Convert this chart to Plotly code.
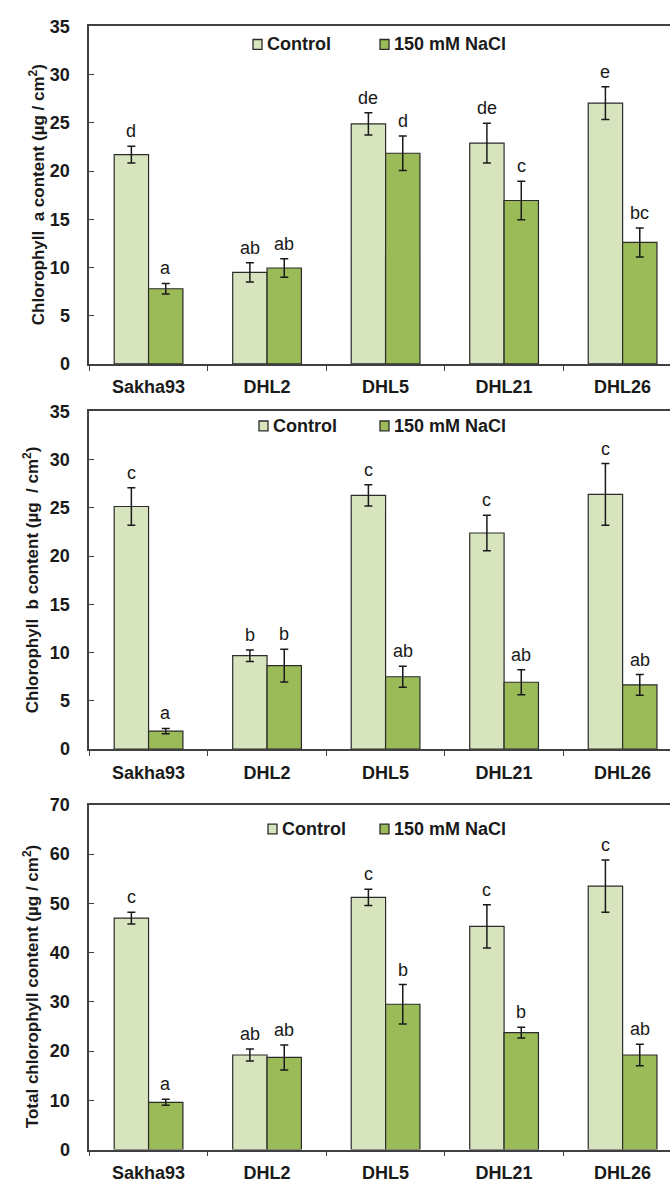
import plotly.graph_objects as go

# Chlorophyll content of wheat genotypes under control and 150 mM NaCl
cultivars = ["Sakha93", "DHL2", "DHL5", "DHL21", "DHL26"]

chla_control = [21.7, 9.5, 24.9, 22.9, 27.05]
chla_control_err = [0.87, 1.0, 1.15, 2.05, 1.7]
chla_nacl = [7.8, 9.95, 21.85, 16.95, 12.6]
chla_nacl_err = [0.55, 0.95, 1.8, 2.0, 1.5]
chla_control_letters = ["d", "ab", "de", "de", "e"]
chla_nacl_letters = ["a", "ab", "d", "c", "bc"]

chlb_control = [25.15, 9.68, 26.3, 22.4, 26.4]
chlb_control_err = [1.95, 0.6, 1.1, 1.83, 3.2]
chlb_nacl = [1.87, 8.66, 7.5, 6.93, 6.66]
chlb_nacl_err = [0.27, 1.7, 1.1, 1.3, 1.07]
chlb_control_letters = ["c", "b", "c", "c", "c"]
chlb_nacl_letters = ["a", "b", "ab", "ab", "ab"]

total_control = [47.0, 19.2, 51.2, 45.3, 53.5]
total_control_err = [1.2, 1.2, 1.65, 4.4, 5.3]
total_nacl = [9.6, 18.7, 29.5, 23.75, 19.2]
total_nacl_err = [0.6, 2.55, 4.0, 1.1, 2.2]
total_control_letters = ["c", "ab", "c", "c", "c"]
total_nacl_letters = ["a", "ab", "b", "b", "ab"]

panel_titles = [
    "Chlorophyll  a content (µg / cm<sup>2</sup>)",
    "Chlorophyll  b content (µg  / cm<sup>2</sup>)",
    "Total chlorophyll content (µg / cm<sup>2</sup>)",
]
y_ranges = [35, 35, 70]
y_dticks = [5, 5, 10]

W, H = 670, 1194
FONT = "Liberation Sans, Arial, sans-serif"
C_CONTROL = "#d7e4bd"
C_NACL = "#9bbb59"
OUTLINE = "#2b2b2b"
AXIS = "#404040"

# panel geometry in pixels: (top, bottom) of each plot area
panel_px = [(16.7, 360.0), (408.3, 751.7), (808.3, 1159.0)]
left_px = 89.3
# legend layout per panel: control box x, nacl box x, centre y
legend_px = [(253, 380, 35), (259, 380, 423), (268, 380, 833)]
title_x_px = [37, 31, 31]
title_y_shift = [0, 0, 10]

panels = [
    (chla_control, chla_control_err, chla_nacl, chla_nacl_err,
     chla_control_letters, chla_nacl_letters),
    (chlb_control, chlb_control_err, chlb_nacl, chlb_nacl_err,
     chlb_control_letters, chlb_nacl_letters),
    (total_control, total_control_err, total_nacl, total_nacl_err,
     total_control_letters, total_nacl_letters),
]

def px_x(x):
    return x / W

def px_y(y):
    return 1 - y / H

fig = go.Figure()
annotations = []
shapes = []
layout = {}

for i, (ctl, ctl_e, nac, nac_e, ctl_l, nac_l) in enumerate(panels):
    n = i + 1
    xa = "x" if n == 1 else f"x{n}"
    ya = "y" if n == 1 else f"y{n}"
    for vals, errs, color, name in [(ctl, ctl_e, C_CONTROL, "Control"),
                                    (nac, nac_e, C_NACL, "150 mM NaCl")]:
        fig.add_trace(go.Bar(
            x=cultivars, y=vals, name=name, xaxis=xa, yaxis=ya,
            marker=dict(color=color, line=dict(color=OUTLINE, width=1.2)),
            error_y=dict(type="data", array=errs, color="#1a1a1a",
                         thickness=1.5, width=4),
            showlegend=False,
        ))
    # significance letters above each error bar
    for j in range(len(cultivars)):
        for vals, errs, lets, off in [(ctl, ctl_e, ctl_l, -0.145),
                                      (nac, nac_e, nac_l, 0.145)]:
            annotations.append(dict(
                x=j + off, y=vals[j] + errs[j], xref=xa, yref=ya,
                text=lets[j], showarrow=False, yanchor="bottom",
                font=dict(family=FONT, size=18, color="#1a1a1a"),
                yshift=3,
            ))
    top, bot = panel_px[i]
    ydom = [px_y(bot), px_y(top)]
    layout[f"xaxis{'' if n == 1 else n}"] = dict(
        domain=[px_x(left_px), 1.0], anchor=ya, type="category",
        categoryorder="array", categoryarray=cultivars,
        range=[-0.5, 4.40], showline=True, linecolor=AXIS, linewidth=1.6,
        mirror=True, ticks="outside", tickson="boundaries", ticklen=5,
        tickcolor=AXIS, tickwidth=1.4, showgrid=False, zeroline=False,
        tickfont=dict(family=FONT, size=18, color="#1a1a1a", weight="bold"),
        ticklabelstandoff=6,
    )
    layout[f"yaxis{'' if n == 1 else n}"] = dict(
        domain=ydom, anchor=xa, range=[0, y_ranges[i]], dtick=y_dticks[i],
        showline=True, linecolor=AXIS, linewidth=1.6, ticks="inside",
        ticklen=5, tickcolor=AXIS, tickwidth=1.4, showgrid=False,
        zeroline=False, ticklabelstandoff=14,
        tickfont=dict(family=FONT, size=18, color="#1a1a1a", weight="bold"),
    )
    # vertical axis title
    annotations.append(dict(
        x=px_x(title_x_px[i]), y=(ydom[0] + ydom[1]) / 2, xref="paper",
        yref="paper", text=panel_titles[i], textangle=-90, showarrow=False,
        xanchor="center", yanchor="middle", yshift=-title_y_shift[i],
        font=dict(family=FONT, size=17, color="#1a1a1a", weight="bold"),
    ))
    # legend: boxes and labels inside the plot area
    cx, nx, ly = legend_px[i]
    for bx, color, label in [(cx, C_CONTROL, "Control"),
                             (nx, C_NACL, "150 mM NaCl")]:
        shapes.append(dict(
            type="rect", xref="paper", yref="paper",
            x0=px_x(bx), x1=px_x(bx + 9), y0=px_y(ly + 5), y1=px_y(ly - 5),
            fillcolor=color, line=dict(color=OUTLINE, width=1.3),
        ))
        annotations.append(dict(
            x=px_x(bx + 12), y=px_y(ly), xref="paper", yref="paper",
            text=label, showarrow=False, xanchor="left", yanchor="middle",
            font=dict(family=FONT, size=18, color="#1a1a1a", weight="bold"),
        ))

fig.update_layout(
    width=W, height=H, margin=dict(l=0, r=0, t=0, b=0),
    paper_bgcolor="white", plot_bgcolor="white",
    barmode="group", bargap=0.42, bargroupgap=0,
    annotations=annotations, shapes=shapes,
    **layout,
)

fig.write_html("out.html")
